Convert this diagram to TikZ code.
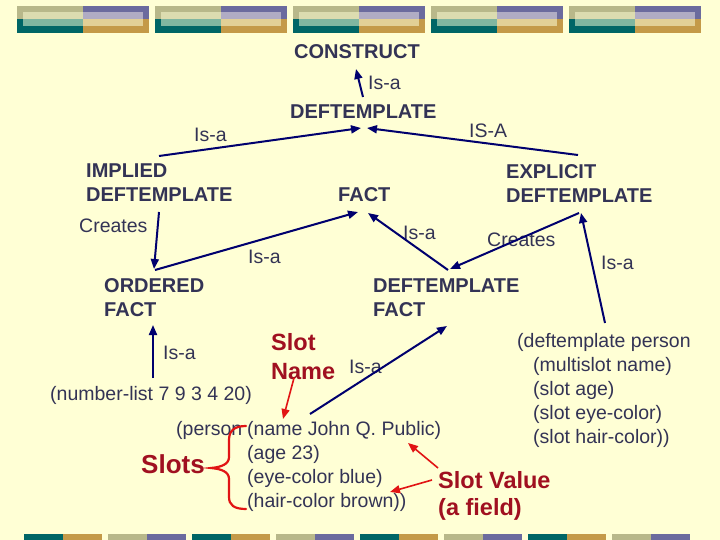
\documentclass[tikz,border=0pt]{standalone}
\usepackage{fontspec}
\setmainfont{Liberation Sans}
\usetikzlibrary{arrows.meta}
\definecolor{bg}{RGB}{255,255,213}
\definecolor{txt}{RGB}{51,51,85}
\definecolor{navy}{RGB}{0,0,110}
\definecolor{dred}{RGB}{160,16,32}
\definecolor{bred}{RGB}{225,20,20}
\definecolor{khakic}{RGB}{184,184,138}
\definecolor{purpc}{RGB}{107,107,158}
\definecolor{tealc}{RGB}{0,102,102}
\definecolor{goldc}{RGB}{196,154,72}
\definecolor{lkhaki}{RGB}{220,220,176}
\definecolor{lpurp}{RGB}{176,172,196}
\definecolor{lteal}{RGB}{128,182,160}
\definecolor{lgold}{RGB}{226,208,150}
\tikzset{
  lbl/.style={inner sep=0pt, anchor=base west, text=txt, font=\fontsize{19.5}{24}\selectfont},
  hdr/.style={inner sep=0pt, anchor=base west, text=txt, font=\fontsize{20}{24}\selectfont\bfseries},
  redlbl/.style={inner sep=0pt, anchor=base west, text=dred, font=\fontsize{23.5}{28}\selectfont\bfseries},
  isa/.style={draw=navy, line width=2pt, -{Triangle[length=10pt,width=8pt]}},
  redarr/.style={draw=bred, line width=1.6pt, -{Triangle[length=10pt,width=8pt]}},
  bracec/.style={draw=bred, line width=2.2pt, line cap=round},
}
\begin{document}
\begin{tikzpicture}[x=1pt,y=-1pt]
\useasboundingbox (0,0) rectangle (720,540);
\fill[bg] (0,0) rectangle (720,540);
% header blocks
\foreach \i in {0,...,4}{
  \pgfmathsetmacro\x{17+138*\i}
  \fill[khakic] (\x,6) rectangle ++(66,13.5);
  \fill[purpc] (\x+66,6) rectangle ++(66,13.5);
  \fill[tealc] (\x,19.5) rectangle ++(66,13.5);
  \fill[goldc] (\x+66,19.5) rectangle ++(66,13.5);
  \fill[lkhaki] (\x+6,12) rectangle ++(60,7.5);
  \fill[lpurp] (\x+66,12) rectangle ++(60,7.5);
  \fill[lteal] (\x+6,19.5) rectangle ++(60,6.5);
  \fill[lgold] (\x+66,19.5) rectangle ++(60,6.5);
}
% footer blocks
\foreach \k in {0,...,7}{
  \pgfmathsetmacro\x{24+84*\k}
  \ifodd\k \def\ca{khakic}\def\cb{purpc}\else\def\ca{tealc}\def\cb{goldc}\fi
  \fill[\ca] (\x,534) rectangle ++(39,6);
  \fill[\cb] (\x+39,534) rectangle ++(39,6);
}
% nodes
\node[hdr] (construct) at (294,59) {CONSTRUCT};
\node[lbl] (isa1) at (368,90) {Is-a};
\node[hdr] (deft) at (290,119) {DEFTEMPLATE};
\node[lbl] (isa2) at (194,142) {Is-a};
\node[lbl] (isa3) at (469,138) {IS-A};
\node[hdr] (implied) at (86,178) {\vtop{\hbox{IMPLIED}\hbox{DEFTEMPLATE}}};
\node[hdr] (fact) at (338,202) {FACT};
\node[hdr] (explicit) at (506,179) {\vtop{\hbox{EXPLICIT}\hbox{DEFTEMPLATE}}};
\node[lbl] (creates1) at (79,233) {Creates};
\node[lbl] (isa4) at (403,240) {Is-a};
\node[lbl] (creates2) at (487,246) {Creates};
\node[lbl] (isa5) at (601,269) {Is-a};
\node[lbl] (isa6) at (248,263) {Is-a};
\node[hdr] (ordered) at (104,292) {\vtop{\hbox{ORDERED}\hbox{FACT}}};
\node[hdr] (dfact) at (373,292) {\vtop{\hbox{DEFTEMPLATE}\hbox{FACT}}};
\node[lbl] (isa7) at (163,359) {Is-a};
\node[redlbl] (slotname) at (271,350) {\vtop{\baselineskip=29pt\hbox{Slot}\hbox{Name}}};
\node[lbl] (isa8) at (349,373) {Is-a};
\node[lbl] (numlist) at (50,400) {(number-list 7 9 3 4 20)};
\node[lbl] (deftperson) at (517,347) {\vtop{\hbox{(deftemplate person}\hbox{\hspace*{16pt}(multislot name)}\hbox{\hspace*{16pt}(slot age)}\hbox{\hspace*{16pt}(slot eye-color)}\hbox{\hspace*{16pt}(slot hair-color))}}};
\node[lbl] (person) at (176,435) {(person};
\node[lbl] (personslots) at (247,435) {\vtop{\hbox{(name John Q. Public)}\hbox{(age 23)}\hbox{(eye-color blue)}\hbox{(hair-color brown))}}};
\node[redlbl, font=\fontsize{26}{30}\selectfont\bfseries] (slots) at (141,473) {Slots};
\node[redlbl] (slotvalue) at (438,488) {\vtop{\baselineskip=27pt\hbox{Slot Value}\hbox{(a field)}}};
% connector end points
\coordinate (p1s) at (363,97);  \coordinate (p1e) at (356,69);
\coordinate (p2s) at (159,156); \coordinate (p2e) at (361,128);
\coordinate (p3s) at (578,155); \coordinate (p3e) at (367,128);
\coordinate (p4s) at (159,212); \coordinate (p4e) at (154,269);
\coordinate (p5s) at (155,270); \coordinate (p5e) at (358,212);
\coordinate (p6s) at (448,270); \coordinate (p6e) at (368,213);
\coordinate (p7s) at (579,213); \coordinate (p7e) at (450,269);
\coordinate (p8s) at (605,323); \coordinate (p8e) at (581,213);
\coordinate (p9s) at (310,414); \coordinate (p9e) at (447,326);
\coordinate (p10s) at (153,378); \coordinate (p10e) at (153,325);
\coordinate (r1s) at (294,378); \coordinate (r1e) at (283,419);
\coordinate (r2s) at (438,468); \coordinate (r2e) at (408,443);
\coordinate (r3s) at (432,480); \coordinate (r3e) at (390,492);
% navy connectors
\draw[isa] (p1s) -- (p1e);
\draw[isa] (p2s) -- (p2e);
\draw[isa] (p3s) -- (p3e);
\draw[isa] (p4s) -- (p4e);
\draw[isa] (p5s) -- (p5e);
\draw[isa] (p6s) -- (p6e);
\draw[isa] (p7s) -- (p7e);
\draw[isa] (p8s) -- (p8e);
\draw[isa] (p9s) -- (p9e);
\draw[isa] (p10s) -- (p10e);
% red connectors
\draw[redarr] (r1s) -- (r1e);
\draw[redarr] (r2s) -- (r2e);
\draw[redarr] (r3s) -- (r3e);
% brace
\draw[bracec] (246,426) .. controls (234,426) and (229,431) .. (229,440) -- (229,457) .. controls (229,464) and (222,467) .. (211,468) .. controls (222,469) and (229,472) .. (229,479) -- (229,497) .. controls (229,505) and (234,509) .. (246,509);
\end{tikzpicture}
\end{document}
